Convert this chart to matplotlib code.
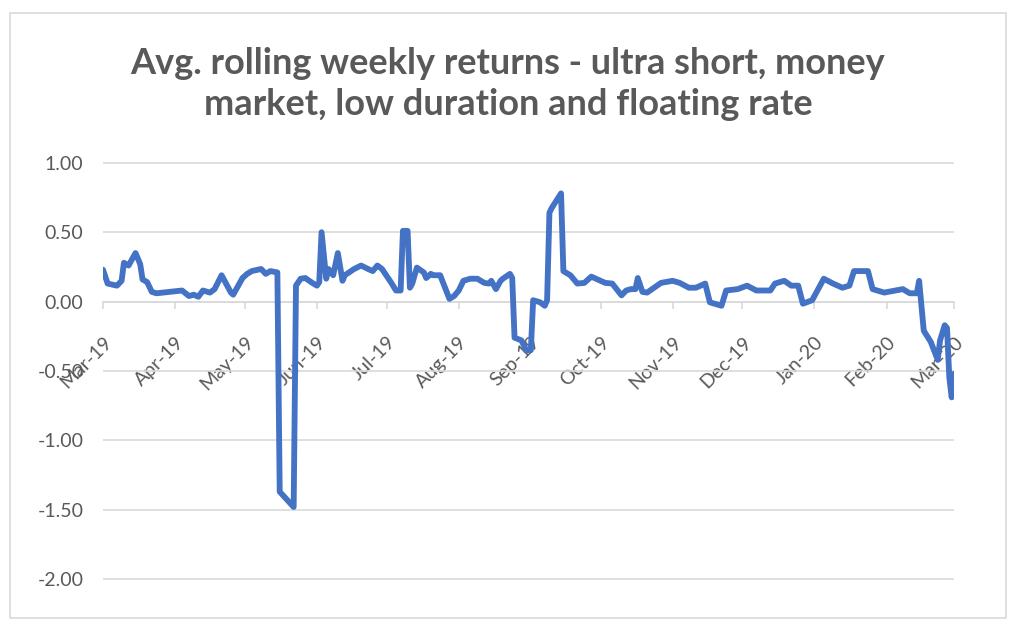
#!/usr/bin/env python3
"""
Average rolling weekly returns for ultra short, money market, low duration
and floating rate funds, Mar-2019 to Mar-2020 (Excel-style line chart).
"""

import numpy as np
import pandas as pd
import matplotlib
matplotlib.use('Agg')
import matplotlib.pyplot as plt
import matplotlib.dates as mdates
from matplotlib.patches import Rectangle

# Data (date, avg rolling weekly return)
dates = [
    '2019-03-01', '2019-03-03', '2019-03-07', '2019-03-09', '2019-03-10', '2019-03-12',
    '2019-03-15', '2019-03-17', '2019-03-18', '2019-03-20', '2019-03-22', '2019-03-24',
    '2019-04-04', '2019-04-07', '2019-04-09', '2019-04-11', '2019-04-13', '2019-04-16',
    '2019-04-18', '2019-04-21', '2019-04-25', '2019-04-26', '2019-04-30', '2019-05-02',
    '2019-05-04', '2019-05-08', '2019-05-10', '2019-05-12', '2019-05-15', '2019-05-16',
    '2019-05-22', '2019-05-23', '2019-05-25', '2019-05-27', '2019-05-30', '2019-06-01',
    '2019-06-02', '2019-06-03', '2019-06-05', '2019-06-06', '2019-06-08', '2019-06-10',
    '2019-06-12', '2019-06-13', '2019-06-17', '2019-06-20', '2019-06-23', '2019-06-25',
    '2019-06-27', '2019-06-29', '2019-07-03', '2019-07-05', '2019-07-07', '2019-07-08',
    '2019-07-10', '2019-07-11', '2019-07-12', '2019-07-14', '2019-07-17', '2019-07-18',
    '2019-07-20', '2019-07-21', '2019-07-24', '2019-07-28', '2019-07-30', '2019-08-01',
    '2019-08-03', '2019-08-06', '2019-08-09', '2019-08-12', '2019-08-14', '2019-08-15',
    '2019-08-17', '2019-08-19', '2019-08-20', '2019-08-23', '2019-08-24', '2019-08-25',
    '2019-08-28', '2019-08-30', '2019-09-01', '2019-09-02', '2019-09-05', '2019-09-07',
    '2019-09-08', '2019-09-09', '2019-09-10', '2019-09-14', '2019-09-15', '2019-09-18',
    '2019-09-21', '2019-09-24', '2019-09-27', '2019-09-29', '2019-10-03', '2019-10-06',
    '2019-10-10', '2019-10-12', '2019-10-14', '2019-10-16', '2019-10-17', '2019-10-19',
    '2019-10-21', '2019-10-24', '2019-10-27', '2019-11-01', '2019-11-04', '2019-11-08',
    '2019-11-11', '2019-11-15', '2019-11-17', '2019-11-22', '2019-11-24', '2019-11-29',
    '2019-12-03', '2019-12-07', '2019-12-13', '2019-12-15', '2019-12-19', '2019-12-22',
    '2019-12-25', '2019-12-27', '2019-12-31', '2020-01-05', '2020-01-09', '2020-01-13',
    '2020-01-16', '2020-01-18', '2020-01-24', '2020-01-26', '2020-01-31', '2020-02-08',
    '2020-02-11', '2020-02-14', '2020-02-15', '2020-02-17', '2020-02-20', '2020-02-23',
    '2020-02-24', '2020-02-26', '2020-02-27', '2020-02-28', '2020-02-29', '2020-03-01',
]
returns = [
    0.23, 0.13, 0.115, 0.15, 0.28, 0.26,
    0.35, 0.27, 0.16, 0.14, 0.07, 0.06,
    0.08, 0.04, 0.05, 0.035, 0.08, 0.065,
    0.09, 0.19, 0.065, 0.05, 0.17, 0.20,
    0.22, 0.235, 0.20, 0.22, 0.21, -1.37,
    -1.48, 0.115, 0.165, 0.17, 0.135, 0.115,
    0.14, 0.50, 0.165, 0.235, 0.19, 0.35,
    0.15, 0.19, 0.235, 0.26, 0.235, 0.22,
    0.26, 0.235, 0.135, 0.08, 0.08, 0.51,
    0.51, 0.10, 0.13, 0.245, 0.21, 0.17,
    0.20, 0.19, 0.19, 0.02, 0.04, 0.08,
    0.15, 0.165, 0.165, 0.135, 0.13, 0.15,
    0.09, 0.15, 0.165, 0.20, 0.17, -0.26,
    -0.28, -0.35, -0.35, 0.01, -0.005, -0.03,
    0.01, 0.64, 0.675, 0.78, 0.22, 0.19,
    0.13, 0.135, 0.18, 0.165, 0.135, 0.13,
    0.045, 0.08, 0.09, 0.09, 0.17, 0.07,
    0.065, 0.10, 0.135, 0.15, 0.135, 0.10,
    0.10, 0.13, -0.005, -0.03, 0.08, 0.09,
    0.115, 0.08, 0.08, 0.13, 0.15, 0.115,
    0.115, -0.015, 0.01, 0.165, 0.13, 0.10,
    0.115, 0.22, 0.22, 0.09, 0.065, 0.09,
    0.06, 0.06, 0.15, -0.21, -0.29, -0.42,
    -0.28, -0.17, -0.19, -0.55, -0.69, -0.52,
]

y_ticks = [-2.0, -1.5, -1.0, -0.5, 0.0, 0.5, 1.0]
title = 'Avg. rolling weekly returns - ultra short, money\nmarket, low duration and floating rate'


def main():
    plt.rcParams['font.family'] = ['Lato', 'DejaVu Sans']
    text_color = '#595959'
    grid_color = '#D9D9D9'
    line_color = '#4472C4'

    x = pd.to_datetime(dates)
    y = np.array(returns)

    fig = plt.figure(figsize=(10.24, 6.29), dpi=100)
    ax = fig.add_axes([103 / 1024, 1 - 580 / 629, 851 / 1024, 418 / 629])

    # Light frame around the whole chart, as in Excel
    fig.patches.append(Rectangle((10 / 1024, 1 - 618 / 629), 996 / 1024, 605 / 629,
                                 transform=fig.transFigure, fill=False,
                                 edgecolor=grid_color, linewidth=1.2))

    ax.plot(x, y, color=line_color, linewidth=4.2, solid_joinstyle='round',
            solid_capstyle='round', zorder=3)

    # Axis ranges (tiny margin so the outer gridlines are not clipped)
    ax.set_xlim(pd.Timestamp('2019-03-01'), pd.Timestamp('2020-03-01'))
    ax.set_ylim(-2.006, 1.006)
    ax.set_yticks(y_ticks)
    ax.set_yticklabels([f'{v:.2f}' for v in y_ticks], fontsize=14, color=text_color)
    ax.grid(axis='y', color=grid_color, linewidth=1.2)
    ax.set_axisbelow(True)

    # Horizontal axis crosses at zero
    for side in ['left', 'right', 'top']:
        ax.spines[side].set_visible(False)
    ax.spines['bottom'].set_position(('data', 0))
    ax.spines['bottom'].set_color(grid_color)
    ax.spines['bottom'].set_linewidth(1.2)
    ax.tick_params(axis='y', length=0, pad=14)

    ax.xaxis.set_major_locator(mdates.MonthLocator())
    ax.xaxis.set_major_formatter(mdates.DateFormatter('%b-%y'))
    ax.tick_params(axis='x', direction='out', length=5, width=1.2, color=grid_color,
                   labelsize=14, labelcolor=text_color, pad=18)
    for lbl in ax.get_xticklabels():
        lbl.set_rotation(45)
        lbl.set_ha('right')
        lbl.set_rotation_mode('anchor')

    fig.text(508 / 1024, 1 - 84 / 629, title, ha='center', va='center',
             fontsize=26, fontweight='bold', color=text_color, linespacing=1.3)

    plt.savefig('out.png', dpi=100)
    plt.close()


if __name__ == '__main__':
    main()
